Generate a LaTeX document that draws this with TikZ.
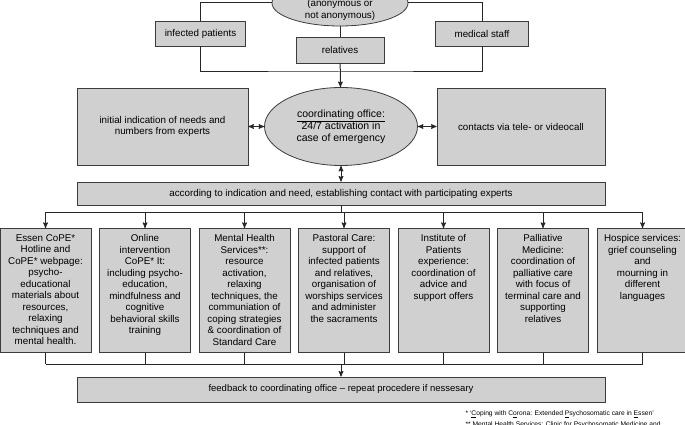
\documentclass[tikz,border=0pt]{standalone}
\usepackage{fontspec}
\setmainfont{Liberation Sans}
\usetikzlibrary{shapes.geometric, positioning, arrows}
\definecolor{boxgray}{RGB}{208,208,208}
\definecolor{boxline}{RGB}{60,60,60}
\newcommand{\toptext}[1]{\parbox[c][112pt][t]{90pt}{\centering #1}}
\tikzset{
	>=stealth',
	every node/.style={font=\fontsize{9.8}{11.5}\selectfont},
	box/.style={draw=boxline, fill=boxgray, line width=0.8pt, align=center, inner sep=2pt},
	roundbox/.style={ellipse, draw=boxline, fill=boxgray, line width=0.8pt, align=center, inner sep=0pt},
	expert/.style={box, minimum width=91, minimum height=124, inner sep=0pt},
	link/.style={line width=1pt, black!85},
	note/.style={anchor=west, font=\fontsize{6.7}{7.5}\selectfont}
}

\begin{document}
\begin{tikzpicture}[x=1pt, y=-1pt]
	\useasboundingbox (0,0) rectangle (685,425);

	\node[roundbox, minimum width=136, minimum height=46] (contact) at (340,3) {};
	\node[align=center] (anonymous) at (340,10) {(anonymous or\\not anonymous)};
	\node[box, minimum width=90, minimum height=25] (infected) at (200.5,33.5) {infected patients};
	\node[box, minimum width=88, minimum height=26] (relatives) at (340,50) {relatives};
	\node[box, minimum width=93, minimum height=25] (medical) at (482,33.5) {medical staff};

	\node[roundbox, minimum width=153, minimum height=78, font=\fontsize{10.5}{12}\selectfont] (office) at (341,126.5) {\underline{coordinating office:}\\24/7 activation in\\case of emergency};
	\node[box, minimum width=171, minimum height=77] (needs) at (162.5,126.5) {initial indication of needs and\\numbers from experts};
	\node[box, minimum width=168, minimum height=77] (contacts) at (521,126.5) {contacts via tele- or videocall};

	\node[box, minimum width=528, minimum height=23] (according) at (341,193.5) {according to indication and need, establishing contact with participating experts};

	\node[expert, anchor=north] (essen) at (45.5,228) {\toptext{Essen CoPE*\\Hotline and\\CoPE* webpage:\\psycho-\\educational\\materials about\\resources,\\relaxing\\techniques and\\mental health.}};
	\node[expert, right=7.7pt of essen] (online) {\toptext{Online\\intervention\\CoPE* It:\\including psycho-\\education,\\mindfulness and\\cognitive\\behavioral skills\\training}};
	\node[expert, right=7.7pt of online] (mental) {\toptext{Mental Health\\Services**:\\resource\\activation,\\relaxing\\techniques, the\\communiation of\\coping strategies\\\& coordination of\\Standard Care}};
	\node[expert, right=7.7pt of mental] (pastoral) {\toptext{Pastoral Care:\\support of\\infected patients\\and relatives,\\organisation of\\worships services\\and administer\\the sacraments}};
	\node[expert, right=7.7pt of pastoral] (institute) {\toptext{Institute of\\Patients\\experience:\\coordination of\\advice and\\support offers}};
	\node[expert, right=7.7pt of institute] (palliative) {\toptext{Palliative\\Medicine:\\coordination of\\palliative care\\with focus of\\terminal care and\\supporting\\relatives}};
	\node[expert, right=7.7pt of palliative] (hospice) {\toptext{Hospice services:\\grief counseling\\and\\mourning in\\different\\languages}};

	\node[box, minimum width=528, minimum height=25, font=\fontsize{9.5}{11.5}\selectfont] (feedback) at (341,389.5) {feedback to coordinating office -- repeat procedere if nessesary};

	\node[note] (note1) at (462,414) {* `\underline{C}oping with C\underline{o}rona: Extended \underline{P}sychosomatic care in \underline{E}ssen'};
	\node[note] (note2) at (462,425) {** Mental Health Services: Clinic for Psychosomatic Medicine and};

	\coordinate (gather) at (340,72);
	\coordinate (split) at (341,212);
	\coordinate (join) at (341,364);

	\draw[link] (infected.north) |- (contact.west);
	\draw[link] (medical.north) |- (contact.east);
	\draw[link] (infected.south) |- (gather) -| (medical.south);
	\draw[link] (contact) -- (relatives);
	\draw[link, ->] (relatives) -- (office);
	\draw[link, <->] (needs) -- (office);
	\draw[link, <->] (office) -- (contacts);
	\draw[link, <->] (office) -- (according);
	\foreach \n in {essen, online, mental, pastoral, institute, palliative, hospice}
		\draw[link, ->] (according.south) -- (split) -| (\n.north);
	\foreach \n in {essen, online, mental, pastoral, institute, palliative, hospice}
		\draw[link] (\n.south) -- (\n.south |- join);
	\draw[link] (essen.south |- join) -- (hospice.south |- join);
	\draw[link, ->] (join) -- (feedback);
\end{tikzpicture}
\end{document}
